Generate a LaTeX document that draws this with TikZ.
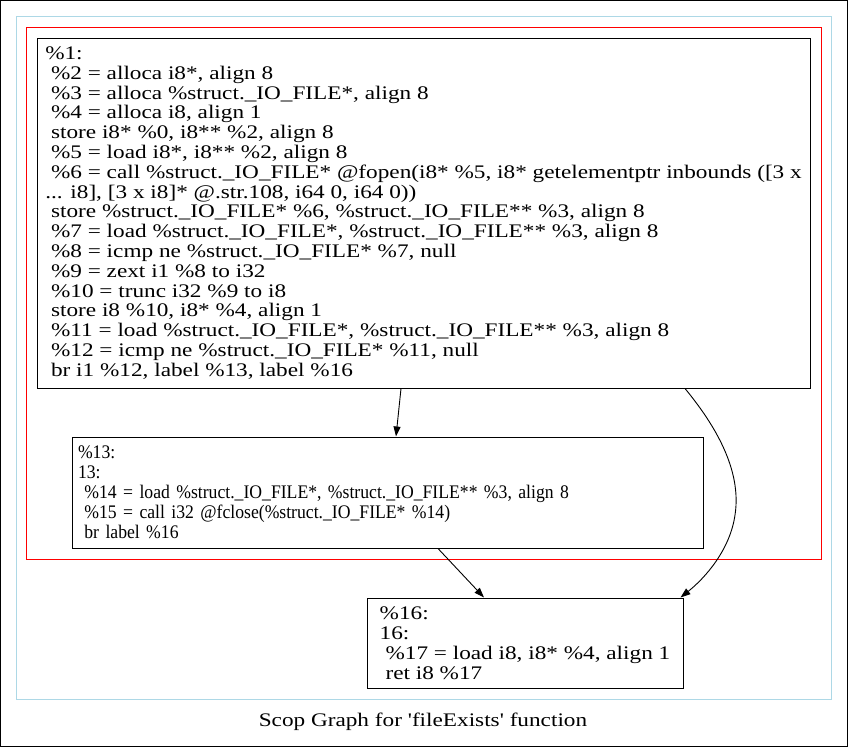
\documentclass[tikz,border=0pt]{standalone}
\usepackage{fontspec}
\setmainfont{Liberation Serif}[Ligatures=TeXOff]
\newfontfamily\widefont{Liberation Serif}[Ligatures=TeXOff, FakeStretch=1.21]
\newfontfamily\narrowfont{Liberation Serif}[Ligatures=TeXOff, FakeStretch=0.92]
\usetikzlibrary{arrows.meta}
\newcommand\lsp{\mbox{}\ }
\definecolor{clblue}{HTML}{ADD8E6}
\tikzset{
  block/.style={draw=black, line width=1pt, inner ysep=0pt, align=left},
  bigtxt/.style={font=\widefont\fontsize{19.2}{19.8}\selectfont},
  widetxt/.style={font=\widefont\fontsize{19.2}{20}\selectfont},
  smalltxt/.style={font=\narrowfont\fontsize{19.2}{20}\selectfont},
  edge/.style={draw=black, line width=0.9pt, -{Triangle[length=10pt,width=7pt]}},
}
\begin{document}
\begin{tikzpicture}[x=1pt,y=-1pt]
\useasboundingbox (0,0) rectangle (848,747);
\draw[black, line width=1pt] (0.5,0.5) rectangle (847.5,746.5);
\draw[clblue, line width=1pt] (16,16) rectangle (831,699);
\draw[red, line width=1pt] (26,27) rectangle (821,559);

\node[block, bigtxt, minimum width=773pt, minimum height=350pt] (n1) at (423.5,213) {%
\%1:\\
\lsp\%2 = alloca i8*, align 8\\
\lsp\%3 = alloca \%struct.\_IO\_FILE*, align 8\\
\lsp\%4 = alloca i8, align 1\\
\lsp store i8* \%0, i8** \%2, align 8\\
\lsp\%5 = load i8*, i8** \%2, align 8\\
\lsp\%6 = call \%struct.\_IO\_FILE* @fopen(i8* \%5, i8* getelementptr inbounds ([3 x\\
... i8], [3 x i8]* @.str.108, i64 0, i64 0))\\
\lsp store \%struct.\_IO\_FILE* \%6, \%struct.\_IO\_FILE** \%3, align 8\\
\lsp\%7 = load \%struct.\_IO\_FILE*, \%struct.\_IO\_FILE** \%3, align 8\\
\lsp\%8 = icmp ne \%struct.\_IO\_FILE* \%7, null\\
\lsp\%9 = zext i1 \%8 to i32\\
\lsp\%10 = trunc i32 \%9 to i8\\
\lsp store i8 \%10, i8* \%4, align 1\\
\lsp\%11 = load \%struct.\_IO\_FILE*, \%struct.\_IO\_FILE** \%3, align 8\\
\lsp\%12 = icmp ne \%struct.\_IO\_FILE* \%11, null\\
\lsp br i1 \%12, label \%13, label \%16};

\node[block, smalltxt, inner xsep=6pt, text width=619pt, minimum height=111pt] (n13) at (387.5,492.5) {%
\%13:\\
13:\\
\lsp\%14 = load \%struct.\_IO\_FILE*, \%struct.\_IO\_FILE** \%3, align 8\\
\lsp\%15 = call i32 @fclose(\%struct.\_IO\_FILE* \%14)\\
\lsp br label \%16};

\node[block, widetxt, minimum width=316pt, minimum height=90pt] (n16) at (525,643) {%
\%16:\\
16:\\
\lsp\%17 = load i8, i8* \%4, align 1\\
\lsp ret i8 \%17};

\node[widetxt, inner sep=0pt] (cap) at (423,722) {Scop Graph for 'fileExists' function};

\draw[edge] ([xshift=-22.5pt]n1.south) -- ([xshift=8.5pt]n13.north);
\draw[edge] ([xshift=261.5pt]n1.south) .. controls (715,425) and (742,470) .. (735,515)
  .. controls (730,550) and (705,578) .. ([xshift=-3pt]n16.north east);
\draw[edge] ([xshift=50.5pt]n13.south) -- ([xshift=-41pt]n16.north);
\end{tikzpicture}
\end{document}
